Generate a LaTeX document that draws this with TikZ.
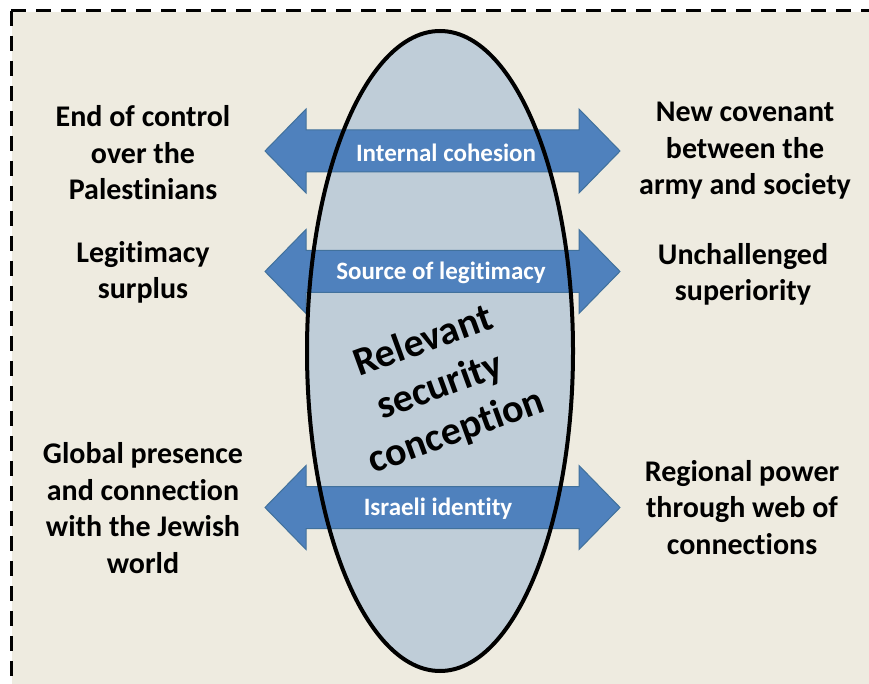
\documentclass[tikz,border=0pt]{standalone}
\usepackage{fontspec}
\setmainfont{Carlito}[Ligatures=NoCommon]
\definecolor{paper}{HTML}{EEEBE0}
\definecolor{lens}{HTML}{BFCDD8}
\definecolor{arrowblue}{HTML}{4F81BD}
\definecolor{arrowedge}{HTML}{41719C}
\begin{document}
\begin{tikzpicture}[x=1pt,y=-1pt,
  sidetext/.style={align=center,font=\bfseries\fontsize{30}{36.5}\selectfont},
  intext/.style={text=white,font=\bfseries\fontsize{25}{30}\selectfont},
  twoway/.style={fill=arrowblue,draw=arrowedge,line width=1pt}]
\useasboundingbox (0,0) rectangle (869,684);
\fill[white] (0,0) rectangle (869,684);
\fill[paper] (12,12) rectangle (869,684);
\draw[line width=3pt,dash pattern=on 15pt off 10pt] (11,11) -- (869,11);
\draw[line width=3pt,dash pattern=on 15pt off 10pt] (11,11) -- (11,684);
% lens behind the arrows
\fill[lens] (440,351) ellipse [x radius=133, y radius=320];
\foreach \y/\tx/\nm/\txt in {151/446/cohesion/Internal cohesion,
    271.5/441/source/Source of legitimacy, 507.5/438/identity/Israeli identity}{
  \draw[twoway] (265,\y) -- (306,\y-42) -- (306,\y-21) -- (579,\y-21) -- (579,\y-42)
    -- (620,\y) -- (579,\y+42) -- (579,\y+21) -- (306,\y+21) -- (306,\y+42) -- cycle;
  \node[intext] (\nm) at (\tx,\y+1.5) {\txt};
}
\draw[line width=4pt] (440,351) ellipse [x radius=133, y radius=320];
\node[rotate=20,align=center,font=\bfseries\fontsize{40}{48}\selectfont] (concept)
  at (440,387) {Relevant\\security\\conception};
% left side
\node[sidetext] (endctrl) at (143,153) {End of control\\over the\\Palestinians};
\node[sidetext] (legit) at (143,272.5) {Legitimacy\\surplus};
\node[sidetext] (global) at (143,508) {Global presence\\and connection\\with the Jewish\\world};
% right side
\node[sidetext] (covenant) at (745,151) {New covenant\\between the\\army and society};
\node[sidetext] (superior) at (743,274.5) {Unchallenged\\superiority};
\node[sidetext] (regional) at (742,507.5) {Regional power\\through web of\\connections};
\end{tikzpicture}
\end{document}
